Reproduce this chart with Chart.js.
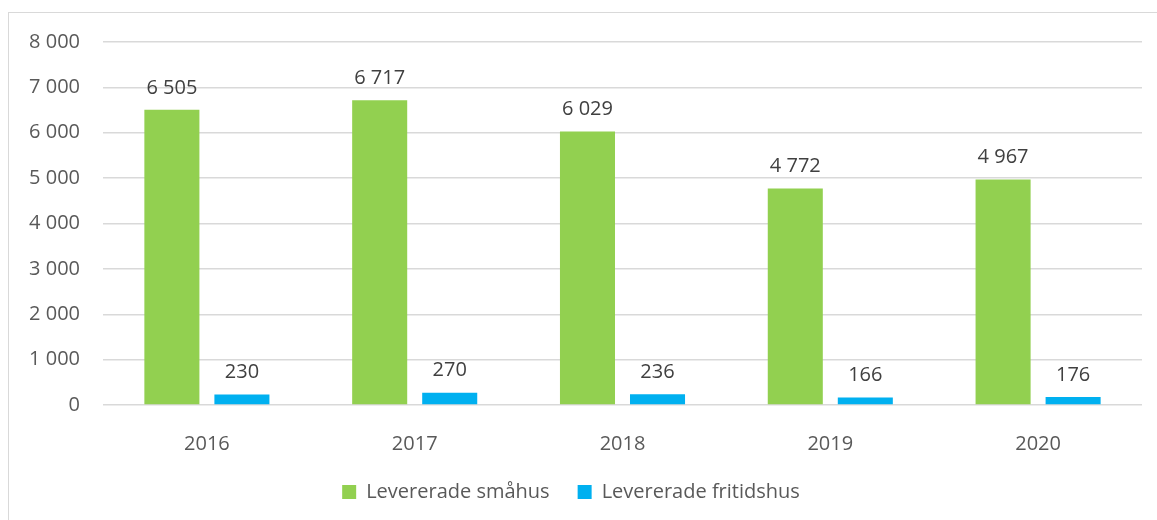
<!DOCTYPE html>
<html>
<head>
    <title>Levererade hus</title>
    <script src="https://cdn.jsdelivr.net/npm/chart.js@4/dist/chart.umd.min.js"></script>
    <style>
        body {
            margin: 0;
            padding: 0;
            background-color: #ffffff;
            overflow: hidden;
        }
        .frame {
            position: absolute;
            left: 8px;
            top: 12px;
            width: 1200px;
            height: 600px;
            border: 1.5px solid #d9d9d9;
        }
        #chartContainer {
            position: absolute;
            left: 0;
            top: 0;
            width: 1157px;
            height: 520px;
        }
    </style>
</head>
<body>
    <div class="frame"></div>
    <div id="chartContainer">
        <canvas id="barChart"></canvas>
    </div>

    <script>
        // data
        var years = ['2016', '2017', '2018', '2019', '2020'];
        var smahus = [6505, 6717, 6029, 4772, 4967];
        var fritidshus = [230, 270, 236, 166, 176];
        var seriesNames = ['Levererade småhus', 'Levererade fritidshus'];
        var yTicks = [0, 1000, 2000, 3000, 4000, 5000, 6000, 7000, 8000];

        function fmt(v) {
            return String(v).replace(/\B(?=(\d{3})+(?!\d))/g, ' ');
        }

        // simple value labels above the bars
        var valueLabels = {
            id: 'valueLabels',
            afterDatasetsDraw: function (chart) {
                var ctx = chart.ctx;
                ctx.save();
                ctx.font = '20px "Open Sans"';
                ctx.fillStyle = '#404040';
                ctx.textAlign = 'center';
                ctx.textBaseline = 'middle';
                chart.data.datasets.forEach(function (ds, i) {
                    var meta = chart.getDatasetMeta(i);
                    meta.data.forEach(function (bar, j) {
                        ctx.fillText(fmt(ds.data[j]), bar.x, bar.y - 22);
                    });
                });
                ctx.restore();
            }
        };

        var barCtx = document.getElementById('barChart').getContext('2d');

        var barChart = new Chart(barCtx, {
            type: 'bar',
            data: {
                labels: years,
                datasets: [{
                    label: seriesNames[0],
                    data: smahus,
                    backgroundColor: '#92d050',
                    barPercentage: 0.786,
                    categoryPercentage: 0.674
                }, {
                    label: seriesNames[1],
                    data: fritidshus,
                    backgroundColor: '#00b0f0',
                    barPercentage: 0.786,
                    categoryPercentage: 0.674
                }]
            },
            options: {
                responsive: true,
                maintainAspectRatio: false,
                animation: false,
                layout: {
                    padding: { left: 0, right: 15, top: 42, bottom: 8 }
                },
                scales: {
                    x: {
                        grid: { display: false },
                        border: { display: false },
                        ticks: {
                            color: '#595959',
                            font: { family: 'Open Sans', size: 20 },
                            padding: 19
                        },
                        afterFit: function (scale) { scale.height = 49; }
                    },
                    y: {
                        min: 0,
                        max: 8000,
                        afterBuildTicks: function (scale) {
                            scale.ticks = yTicks.map(function (v) { return { value: v }; });
                        },
                        grid: {
                            color: '#d9d9d9',
                            lineWidth: 1.5,
                            drawTicks: false
                        },
                        border: { display: false },
                        ticks: {
                            color: '#595959',
                            font: { family: 'Open Sans', size: 20 },
                            padding: 23,
                            callback: function (v) { return fmt(v); }
                        },
                        afterFit: function (scale) { scale.width = 103; }
                    }
                },
                plugins: {
                    legend: {
                        position: 'bottom',
                        labels: {
                            color: '#595959',
                            font: { family: 'Open Sans', size: 20 },
                            boxWidth: 14,
                            boxHeight: 14,
                            padding: 28
                        }
                    },
                    tooltip: { enabled: false }
                }
            },
            plugins: [valueLabels]
        });
    </script>
</body>
</html>
